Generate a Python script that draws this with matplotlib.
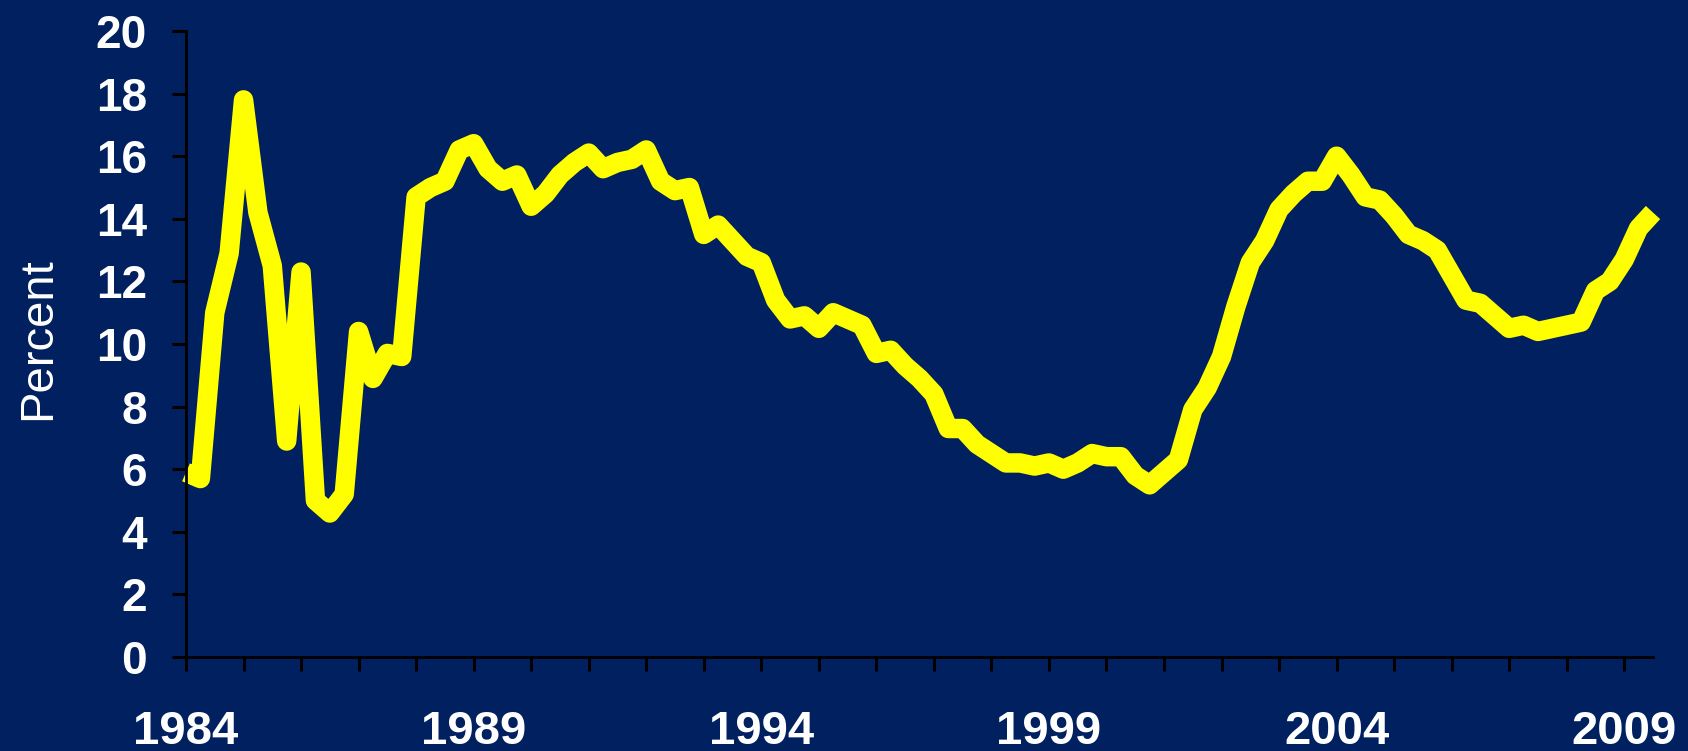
import numpy as np
import matplotlib.pyplot as plt

# quarterly values, 1984 Q1 onward (percent)
values = [
    5.9, 5.7, 11.0, 12.9, 17.8, 14.2, 12.5, 6.9,
    12.3, 5.0, 4.6, 5.2, 10.4, 8.9, 9.7, 9.6,
    14.7, 15.0, 15.2, 16.2, 16.4, 15.6, 15.2, 15.4,
    14.4, 14.8, 15.4, 15.8, 16.1, 15.6, 15.8, 15.9,
    16.2, 15.2, 14.9, 15.0, 13.5, 13.8, 13.3, 12.8,
    12.6, 11.4, 10.8, 10.9, 10.5, 11.0, 10.8, 10.6,
    9.7, 9.8, 9.3, 8.9, 8.4, 7.3, 7.3, 6.8,
    6.5, 6.2, 6.2, 6.1, 6.2, 6.0, 6.2, 6.5,
    6.4, 6.4, 5.8, 5.5, 5.9, 6.3, 7.9, 8.6,
    9.6, 11.2, 12.6, 13.3, 14.3, 14.8, 15.2, 15.2,
    16.0, 15.4, 14.7, 14.6, 14.1, 13.5, 13.3, 13.0,
    12.2, 11.4, 11.3, 10.9, 10.5, 10.6, 10.4, 10.5,
    10.6, 10.7, 11.7, 12.0, 12.7, 13.7, 14.2,
]
startYear = 1984
tickYears = list(range(1984, 2010))
labelYears = [1984, 1989, 1994, 1999, 2004, 2009]
yTicks = list(range(0, 21, 2))

years = startYear + np.arange(len(values)) / 4.0

bg = '#00205F'
fig = plt.figure(figsize=(16.88, 7.51), dpi=100, facecolor=bg)
ax = fig.add_axes([186/1688, 1 - 657/751, (1653 - 186)/1688, (657 - 31)/751])
ax.set_facecolor(bg)

ax.plot(years, values, color='#FFFF00', linewidth=14,
        solid_joinstyle='round', solid_capstyle='butt', clip_on=False)

ax.set_xlim(startYear, years[-1])
ax.set_ylim(0, 20)

ax.set_xticks(tickYears)
ax.set_xticklabels([str(y) if y in labelYears else '' for y in tickYears])
ax.set_yticks(yTicks)
ax.set_yticklabels([str(v) for v in yTicks])

for side in ['top', 'right']:
    ax.spines[side].set_visible(False)
for side in ['left', 'bottom']:
    ax.spines[side].set_color('black')
    ax.spines[side].set_linewidth(2)

ax.tick_params(axis='both', direction='out', color='black', length=10, width=2.2)
ax.tick_params(axis='x', pad=28, labelsize=34, labelcolor='white')
ax.tick_params(axis='y', pad=18, labelsize=33, labelcolor='white')
for lab in ax.get_xticklabels() + ax.get_yticklabels():
    lab.set_fontfamily('Liberation Sans')
    lab.set_fontweight('bold')

fig.text(38/1688, 1 - 339/751, 'Percent', rotation=90, ha='center', va='center',
         color='white', fontsize=34, family='Liberation Sans')

fig.savefig('out.png', dpi=100, facecolor=bg)
